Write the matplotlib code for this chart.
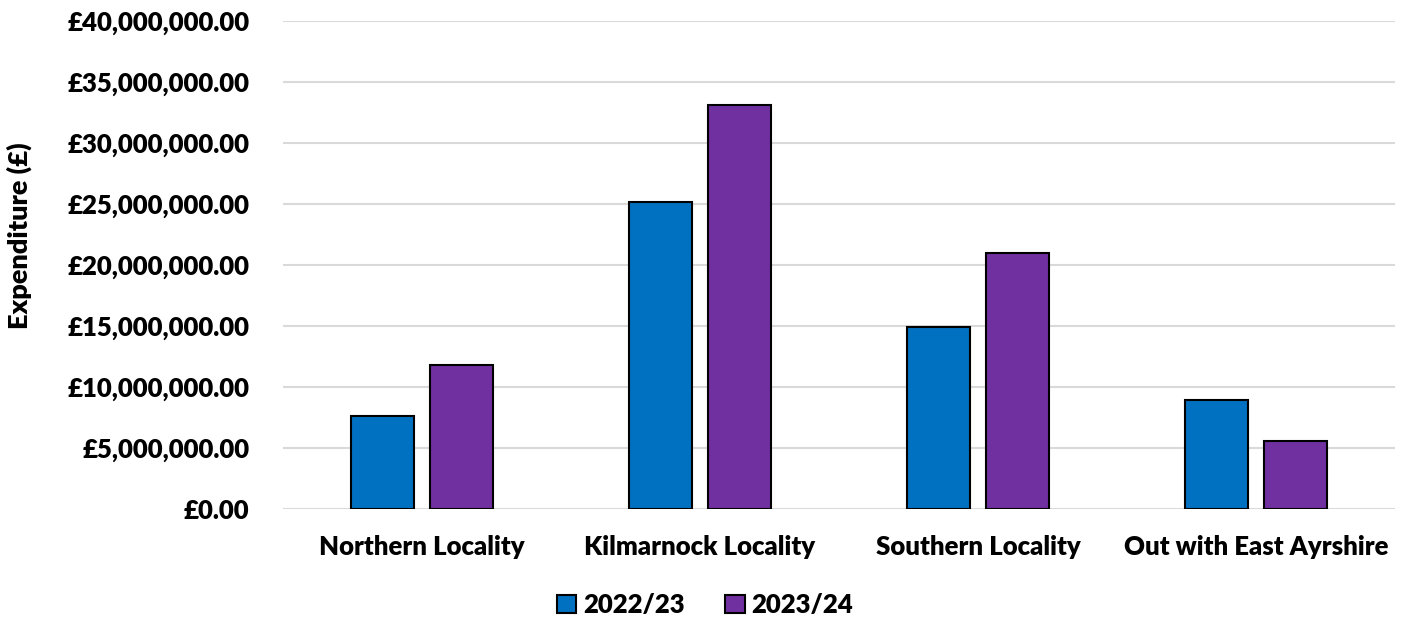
import numpy as np
import matplotlib.pyplot as plt
from matplotlib.ticker import FuncFormatter

categories = ['Northern Locality', 'Kilmarnock Locality', 'Southern Locality', 'Out with East Ayrshire']
series_names = ['2022/23', '2023/24']
spend_2022 = [7.6e6, 25.2e6, 14.9e6, 8.95e6]
spend_2023 = [11.8e6, 33.1e6, 20.95e6, 5.6e6]
colours = ['#0070C0', '#7030A0']

plt.rcParams['font.family'] = ['Lato', 'DejaVu Sans']
plt.rcParams['font.weight'] = 'bold'

fig = plt.figure(figsize=(14.11, 6.2), dpi=100)
ax = fig.add_axes([283 / 1411, 1 - 509 / 620, (1395 - 283) / 1411, 488 / 620])

x = np.arange(len(categories))
width = 0.23
offset = 0.142
for vals, off, col, name in zip([spend_2022, spend_2023], [-offset, offset], colours, series_names):
    ax.bar(x + off, vals, width, color=col, edgecolor='black', linewidth=1.5, label=name, zorder=3)

ax.set_xlim(-0.5, len(categories) - 0.5)
ax.set_ylim(0, 40e6)
ax.set_yticks(np.arange(0, 40e6 + 1, 5e6))
ax.yaxis.set_major_formatter(FuncFormatter(lambda v, p: '£{:,.2f}'.format(v)))
ax.set_xticks(x)
ax.set_xticklabels(categories)
ax.grid(axis='y', color='#d9d9d9', linewidth=1.5, zorder=0)
for s in ax.spines.values():
    s.set_visible(False)
ax.tick_params(axis='both', length=0, labelsize=18.5)
ax.tick_params(axis='x', pad=19)
ax.tick_params(axis='y', pad=24)
for lab in ax.get_xticklabels() + ax.get_yticklabels():
    lab.set_fontweight('heavy')

fig.text(19 / 1411, 1 - 236 / 620, 'Expenditure (£)', rotation=90, ha='center', va='center',
         fontsize=19.5, fontweight='heavy')

leg = ax.legend(loc='center', frameon=False, ncol=2,
                prop={'weight': 'heavy', 'size': 18.5},
                handlelength=0.75, handleheight=0.75, handletextpad=0.25, columnspacing=1.6)
leg.set_bbox_to_anchor((705 / 1411, 1 - 605 / 620), transform=fig.transFigure)

fig.savefig('out.png', dpi=100)
